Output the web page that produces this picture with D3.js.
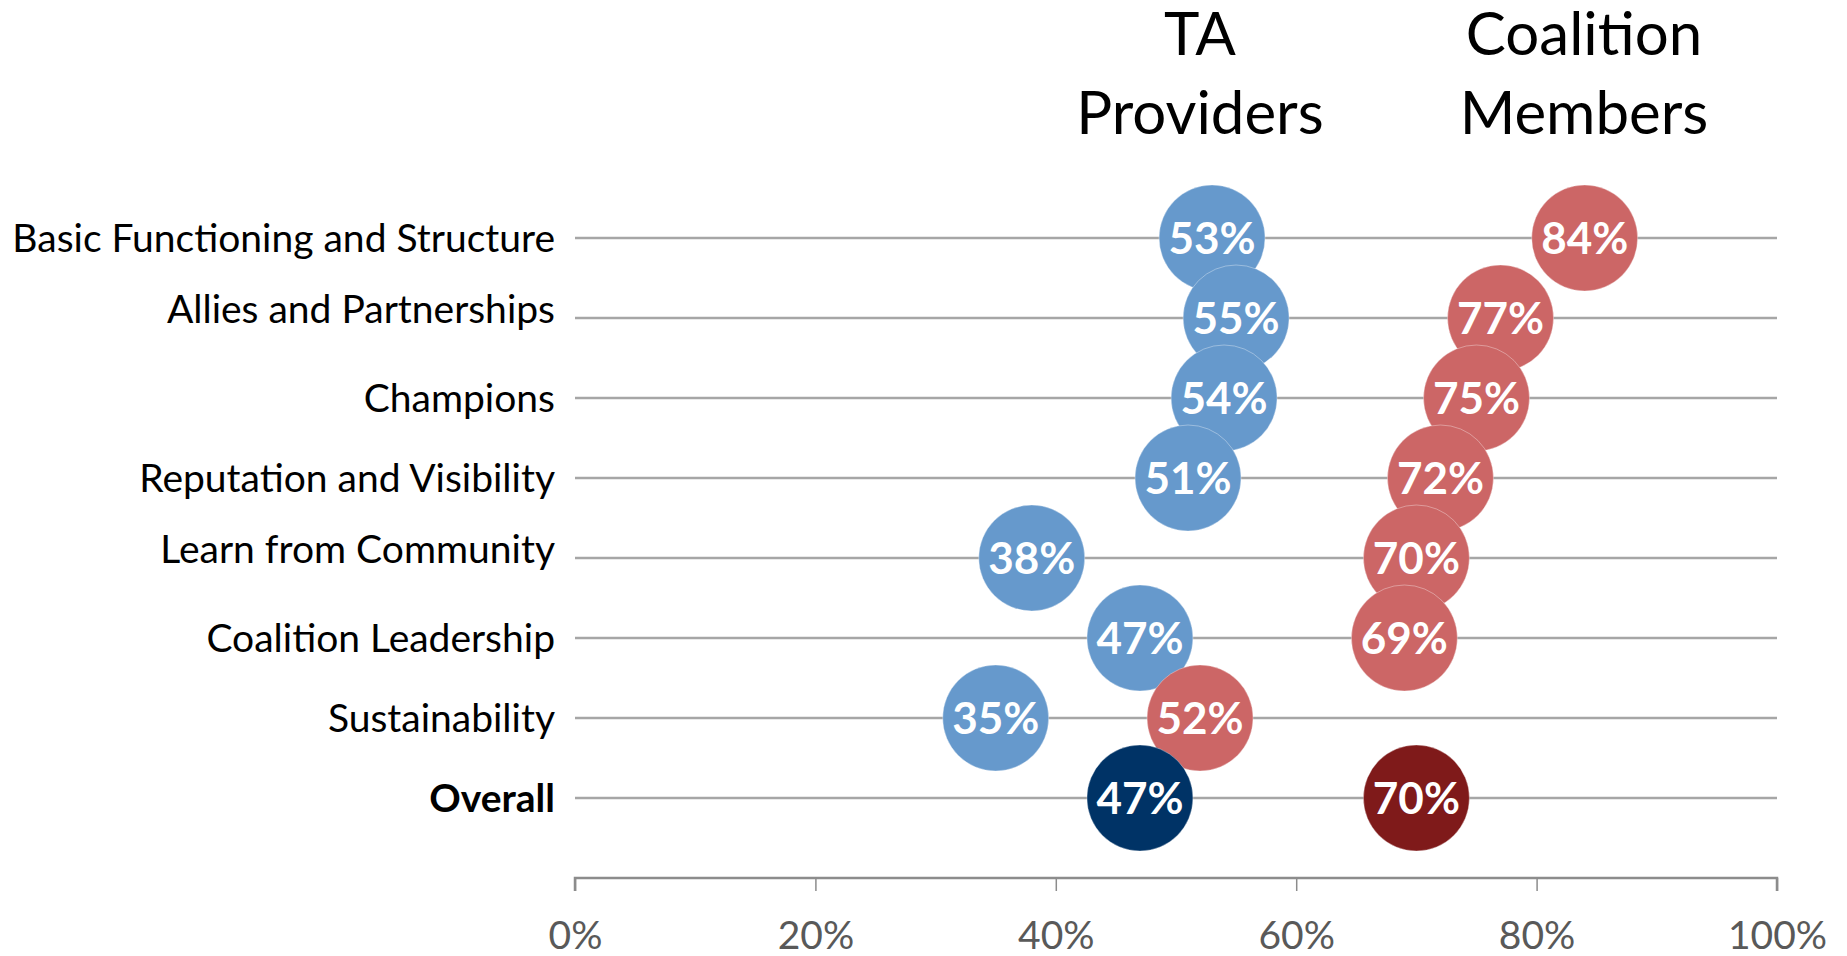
<!DOCTYPE html>
<html>
<head>
<meta charset="utf-8">
<script src="https://cdn.jsdelivr.net/npm/d3@7"></script>
<style>
html,body{margin:0;padding:0;background:#fff;}
svg{display:block;}
</style>
</head>
<body>
<svg id="chart" width="1847" height="956"></svg>
<script>
// ---- data ----
const categories = [
  "Basic Functioning and Structure",
  "Allies and Partnerships",
  "Champions",
  "Reputation and Visibility",
  "Learn from Community",
  "Coalition Leadership",
  "Sustainability",
  "Overall"
];
const taProviders       = [0.53, 0.55, 0.54, 0.51, 0.38, 0.47, 0.35, 0.47];
const coalitionMembers  = [0.84, 0.77, 0.75, 0.72, 0.70, 0.69, 0.52, 0.70];
const seriesNames = ["TA Providers", "Coalition Members"];
const xTicks = [0, 0.2, 0.4, 0.6, 0.8, 1.0];

(function () {
// ---- layout ----
const svg = d3.select("#chart");
const plotLeft = 575, plotRight = 1777, plotTop = 158, plotBottom = 878;
const x = d3.scaleLinear().domain([0, 1]).range([plotLeft, plotRight]);
// scatter-like vertical scale: first category at top
const y = d3.scaleLinear().domain([0, categories.length + 1]).range([plotBottom, plotTop]);
const yPos = i => y(categories.length - i);
const R = 53;
// the reference's labels for a couple of rows sit slightly above their line
const labelNudge = {"Allies and Partnerships": -9, "Learn from Community": -9};

const FONT = "Lato, 'Open Sans', sans-serif";
const colors = {
  ta: "#6699CC", cm: "#CC6666",
  taOverall: "#003366", cmOverall: "#7F1A1A"
};

// gridlines
svg.append("g").selectAll("line").data(categories).join("line")
  .attr("x1", x(0)).attr("x2", x(1))
  .attr("y1", (d, i) => yPos(i)).attr("y2", (d, i) => yPos(i))
  .attr("stroke", "#A6A6A6").attr("stroke-width", 2.5);

// x axis
const xAxis = d3.axisBottom(x).tickValues(xTicks).tickFormat(d3.format(".0%"))
  .tickSize(13).tickPadding(30);
const gx = svg.append("g").attr("transform", `translate(0,${y(0)})`).call(xAxis);
gx.select(".domain").attr("stroke", "#8C8C8C").attr("stroke-width", 2.5)
  .attr("d", `M${x(0)},13V0H${x(1)}V13`);
gx.selectAll(".tick line").attr("stroke", "#8C8C8C").attr("stroke-width", 1.5);
gx.selectAll(".tick text").attr("fill", "#595959").attr("font-family", FONT)
  .attr("font-size", 39).attr("dy", "0.71em");

// category labels
svg.append("g").selectAll("text").data(categories).join("text")
  .attr("x", 555).attr("y", (d, i) => yPos(i) + (labelNudge[d] || 0)).attr("dy", "0.35em")
  .attr("text-anchor", "end").attr("font-family", FONT).attr("font-size", 39)
  .attr("font-weight", (d, i) => i === categories.length - 1 ? 700 : 400)
  .attr("fill", "#000").text(d => d);

// points: TA series, then CM series, then overall
const pts = [];
const last = categories.length - 1;
taProviders.forEach((v, i) => { if (i !== last) pts.push({v, i, c: colors.ta}); });
coalitionMembers.forEach((v, i) => { if (i !== last) pts.push({v, i, c: colors.cm}); });
pts.push({v: taProviders[last], i: last, c: colors.taOverall});
pts.push({v: coalitionMembers[last], i: last, c: colors.cmOverall});

const g = svg.append("g").selectAll("g").data(pts).join("g")
  .attr("transform", d => `translate(${x(d.v)},${yPos(d.i)})`);
g.append("circle").attr("r", R).attr("fill", d => d.c)
  .attr("stroke", "#fff").attr("stroke-opacity", 0.35).attr("stroke-width", 1);
g.append("text").attr("text-anchor", "middle").attr("dy", "0.36em")
  .attr("font-family", FONT).attr("font-weight", 700).attr("font-size", 44)
  .attr("fill", "#fff").text(d => d3.format(".0%")(d.v));

// series titles
const titles = [
  {lines: ["TA", "Providers"], cx: 1200},
  {lines: ["Coalition", "Members"], cx: 1584}
];
titles.forEach(t => {
  const txt = svg.append("text").attr("text-anchor", "middle")
    .attr("font-family", FONT).attr("font-size", 60).attr("fill", "#000");
  t.lines.forEach((ln, j) => {
    txt.append("tspan").attr("x", t.cx).attr("y", 55 + j * 79).text(ln);
  });
});
})();
</script>
</body>
</html>
